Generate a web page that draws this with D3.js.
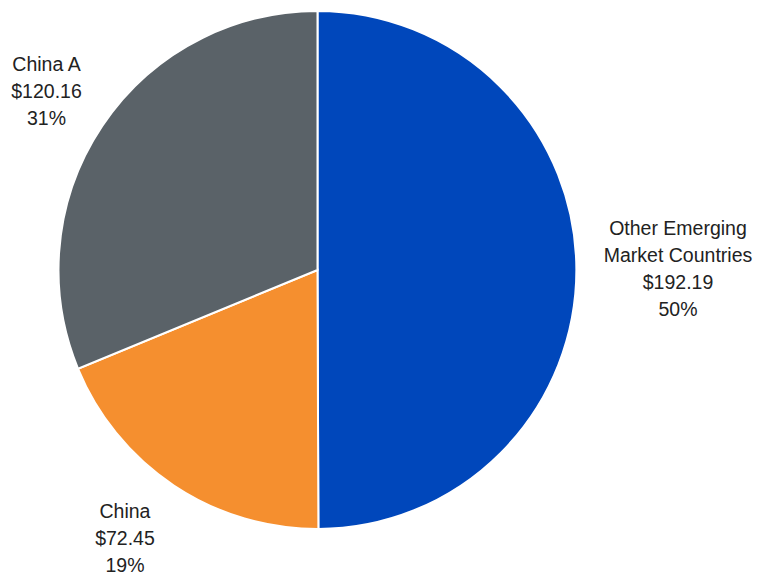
<!DOCTYPE html>
<html><head><meta charset="utf-8">
<script src="https://cdn.jsdelivr.net/npm/d3@7"></script>
<style>html,body{margin:0;padding:0;background:#fff;}</style>
</head><body>
<svg id="chart" width="759" height="577"></svg>
<script>
const categories = ["Other Emerging Market Countries", "China", "China A"];
const values = [192.19, 72.45, 120.16];
const valueLabels = ["$192.19", "$72.45", "$120.16"];
const pctLabels = ["50%", "19%", "31%"];
const colors = ["#0047BB", "#F58F2F", "#5A6268"];

const svg = d3.select("#chart");
const cx = 317.5, cy = 270, r = 259;
const g = svg.append("g").attr("transform", `translate(${cx},${cy})`);
const pie = d3.pie().sort(null).value(d => d)(values);
const arc = d3.arc().innerRadius(0).outerRadius(r);
g.selectAll("path").data(pie).enter().append("path")
  .attr("d", arc).attr("fill", (d,i) => colors[i])
  .attr("stroke", "#fff").attr("stroke-width", 2);

const labelLines = [
  ["Other Emerging", "Market Countries", valueLabels[0], pctLabels[0]],
  ["China", valueLabels[1], pctLabels[1]],
  ["China A", valueLabels[2], pctLabels[2]]
];
const labelPos = [[678, 235], [125, 518], [46.5, 71]];
const lh = 27;
labelLines.forEach((lines, i) => {
  const t = svg.append("text").attr("text-anchor", "middle")
    .attr("font-family", "'Liberation Sans', Arial, sans-serif")
    .attr("font-size", 19.5).attr("fill", "#222");
  lines.forEach((l, j) => {
    t.append("tspan").attr("x", labelPos[i][0]).attr("y", labelPos[i][1] + j * lh).text(l);
  });
});
</script>
</body></html>
